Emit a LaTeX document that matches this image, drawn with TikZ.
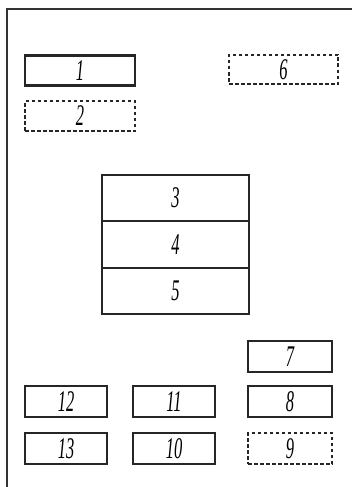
\documentclass[tikz,border=0pt]{standalone}
\usepackage{fontspec}
\setmainfont{Liberation Serif}
\usepackage{graphicx}
\tikzset{
  box/.style={draw=black!85, line width=2.1pt, minimum width=#1, inner sep=0pt, font=\fontsize{30}{30}\selectfont\itshape},
  box/.default=110pt,
  dbox/.style={box=#1, line width=1.7pt, dash pattern=on 3.5pt off 2.5pt},
  dbox/.default=110pt,
  frame/.style={draw=black!80, line width=1.5pt}
}
\newcommand{\lbl}[1]{\scalebox{0.55}[1]{#1}}
\begin{document}
\begin{tikzpicture}[x=1pt,y=-1pt]
\useasboundingbox (0,0) rectangle (352,487);
\coordinate (tr) at (352,9);
\coordinate (tl) at (7,9);
\coordinate (bl) at (7,487);
\draw[frame] (tr) -- (tl) -- (bl);
\node[box, minimum height=30pt] (n1) at (80,70.5) {\lbl{1}};
\node[dbox, minimum height=30pt] (n2) at (80,116) {\lbl{2}};
\node[dbox=109pt, minimum height=29pt] (n6) at (283.5,69.5) {\lbl{6}};
\node[box=147pt, minimum height=46.3pt] (n3) at (175.5,198.2) {\lbl{3}};
\node[box=147pt, minimum height=46.3pt] (n4) at (175.5,244.5) {\lbl{4}};
\node[box=147pt, minimum height=46.3pt] (n5) at (175.5,290.8) {\lbl{5}};
\node[box=84pt, minimum height=31pt] (n7) at (290,356.5) {\lbl{7}};
\node[box=84pt, minimum height=31pt] (n8) at (290,401.5) {\lbl{8}};
\node[dbox=84pt, minimum height=31pt] (n9) at (290,448.5) {\lbl{9}};
\node[box=82pt, minimum height=31pt] (n12) at (66,401.5) {\lbl{12}};
\node[box=82pt, minimum height=31pt] (n13) at (66,448.5) {\lbl{13}};
\node[box=82pt, minimum height=31pt] (n11) at (174,401.5) {\lbl{11}};
\node[box=82pt, minimum height=31pt] (n10) at (174,448.5) {\lbl{10}};
\end{tikzpicture}
\end{document}
